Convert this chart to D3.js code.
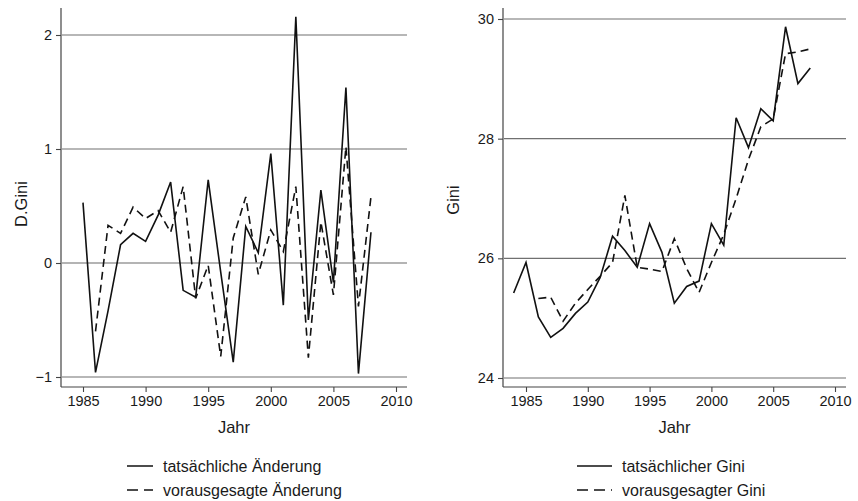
<!DOCTYPE html>
<html>
<head>
<meta charset="utf-8">
<script src="https://cdn.jsdelivr.net/npm/d3@7"></script>
<style>
  html, body { margin: 0; padding: 0; background: #fff; }
  svg { display: block; font-family: "Liberation Sans", Arial, Helvetica, sans-serif; }
</style>
</head>
<body>
<svg id="chart" width="858" height="501"></svg>
<script>
// Years of the two series
const yearsChange = d3.range(1985, 2009);          // 1985..2008
const yearsGiniActual = d3.range(1984, 2009);      // 1984..2008
const yearsGiniPred = d3.range(1986, 2009);        // 1986..2008

// Left panel: year-on-year change of the Gini coefficient
const changeActual = [0.53, -0.96, -0.42, 0.16, 0.26, 0.19, 0.42, 0.71, -0.24, -0.30,
                      0.73, -0.08, -0.87, 0.32, 0.09, 0.96, -0.37, 2.16, -0.50, 0.64,
                      -0.17, 1.54, -0.97, 0.27];
const changePredicted = [null, -0.60, 0.33, 0.26, 0.49, 0.39, 0.46, 0.27, 0.67, -0.31,
                         -0.02, -0.82, 0.22, 0.58, -0.10, 0.29, 0.10, 0.67, -0.83, 0.36,
                         -0.28, 1.02, -0.38, 0.58];

// Right panel: Gini level
const giniActual = [25.42, 25.93, 25.02, 24.68, 24.83, 25.08, 25.27, 25.68, 26.37, 26.13,
                    25.85, 26.58, 26.10, 25.25, 25.53, 25.62, 26.58, 26.22, 28.35, 27.85,
                    28.50, 28.30, 29.87, 28.92, 29.18];
const giniPredicted = [25.33, 25.35, 24.95, 25.25, 25.48, 25.70, 25.93, 27.05, 25.85, 25.82,
                       25.78, 26.33, 25.83, 25.43, 25.93, 26.40, 27.00, 27.65, 28.20, 28.33,
                       29.42, 29.45, 29.50];

// Tick labels
const xTicks = [1985, 1990, 1995, 2000, 2005, 2010];
const yTicksChange = [-1, 0, 1, 2];
const yTicksGini = [24, 26, 28, 30];

// Texts
const xTitle = "Jahr";
const yTitleLeft = "D.Gini";
const yTitleRight = "Gini";
const legendLeft = ["tatsächliche Änderung", "vorausgesagte Änderung"];
const legendRight = ["tatsächlicher Gini", "vorausgesagter Gini"];

const svg = d3.select("#chart");
const DASH = "8,5";
const INK = "#111";
const TEXT = "#1a1a1a";

function panel(cfg) {
  const g = svg.append("g");
  const x = d3.scaleLinear().domain([1985, 2010]).range(cfg.xr);
  const y = d3.scaleLinear().domain(cfg.yd).range(cfg.yr);

  // horizontal grid lines at each y tick
  g.selectAll("line.grid").data(cfg.yTicks).join("line")
    .attr("class", "grid")
    .attr("x1", cfg.left + 1).attr("x2", cfg.right)
    .attr("y1", d => y(d)).attr("y2", d => y(d))
    .attr("stroke", d => d === cfg.softGrid ? "#b4b4b4" : "#707070")
    .attr("stroke-width", d => d === cfg.softGrid ? 2 : 1.2);

  // x axis
  const gx = g.append("g").attr("transform", `translate(0,${cfg.bottom})`)
    .call(d3.axisBottom(x).tickValues(xTicks).tickFormat(d3.format("d"))
      .tickSize(5).tickSizeOuter(0).tickPadding(4));
  gx.select(".domain").remove();
  gx.append("line").attr("x1", cfg.left).attr("x2", cfg.right)
    .attr("stroke", "#444").attr("stroke-width", 1.2);
  gx.selectAll(".tick line").attr("stroke", "#444").attr("stroke-width", 1.1);
  gx.selectAll(".tick text").attr("fill", TEXT).attr("font-size", 14.5)
    .attr("font-family", "Liberation Sans, Arial, sans-serif");

  // y axis
  const gy = g.append("g").attr("transform", `translate(${cfg.left},0)`)
    .call(d3.axisLeft(y).tickValues(cfg.yTicks).tickFormat(d => d < 0 ? "\u2212" + Math.abs(d) : d)
      .tickSize(5).tickSizeOuter(0).tickPadding(4));
  gy.select(".domain").remove();
  gy.append("line").attr("y1", cfg.top).attr("y2", cfg.bottom)
    .attr("stroke", "#444").attr("stroke-width", 1.2);
  gy.selectAll(".tick line").attr("stroke", "#444").attr("stroke-width", 1.1);
  gy.selectAll(".tick text").attr("fill", TEXT).attr("font-size", 14.5)
    .attr("font-family", "Liberation Sans, Arial, sans-serif");

  // axis titles
  g.append("text").attr("x", (cfg.left + cfg.right) / 2).attr("y", cfg.bottom + 46)
    .attr("text-anchor", "middle").attr("font-size", 16.5).attr("fill", TEXT).text(xTitle);
  g.append("text")
    .attr("transform", `translate(${cfg.yTitleX},${cfg.yTitleY}) rotate(-90)`)
    .attr("text-anchor", "middle").attr("font-size", 16.5).attr("fill", TEXT).text(cfg.yTitle);

  // series lines
  const line = d3.line().defined(d => d[1] != null).x(d => x(d[0])).y(d => y(d[1]));
  g.append("path").datum(cfg.solidYears.map((yr, i) => [yr, cfg.solid[i]]))
    .attr("d", line).attr("fill", "none").attr("stroke", INK)
    .attr("stroke-width", 1.6).attr("stroke-linejoin", "miter");
  g.append("path").datum(cfg.dashYears.map((yr, i) => [yr, cfg.dashed[i]]))
    .attr("d", line).attr("fill", "none").attr("stroke", INK)
    .attr("stroke-width", 1.6).attr("stroke-dasharray", DASH);

  // legend
  const lg = g.append("g");
  cfg.legend.forEach((label, i) => {
    const ly = 466 + i * 24;
    lg.append("line").attr("x1", cfg.legX).attr("x2", cfg.legX + cfg.legLen)
      .attr("y1", ly).attr("y2", ly).attr("stroke", INK).attr("stroke-width", 1.5)
      .attr("stroke-dasharray", i === 1 ? "11,6" : null);
    lg.append("text").attr("x", cfg.legX + cfg.legLen + 10).attr("y", ly + 5.5)
      .attr("font-size", 16).attr("fill", TEXT).text(label);
  });
}

panel({
  xr: [83, 396], yd: [-1, 2], yr: [377, 35],
  left: 61, right: 407, top: 8, bottom: 387,
  yTicks: yTicksChange, softGrid: 0,
  yTitle: yTitleLeft, yTitleX: 27, yTitleY: 204,
  solidYears: yearsChange, solid: changeActual,
  dashYears: yearsChange, dashed: changePredicted,
  legend: legendLeft, legX: 127, legLen: 26
});

panel({
  xr: [526, 835], yd: [24, 30], yr: [378, 19],
  left: 503, right: 846, top: 8, bottom: 387,
  yTicks: yTicksGini, softGrid: null,
  yTitle: yTitleRight, yTitleX: 459, yTitleY: 200,
  solidYears: yearsGiniActual, solid: giniActual,
  dashYears: yearsGiniPred, dashed: giniPredicted,
  legend: legendRight, legX: 577, legLen: 35
});
</script>
</body>
</html>
